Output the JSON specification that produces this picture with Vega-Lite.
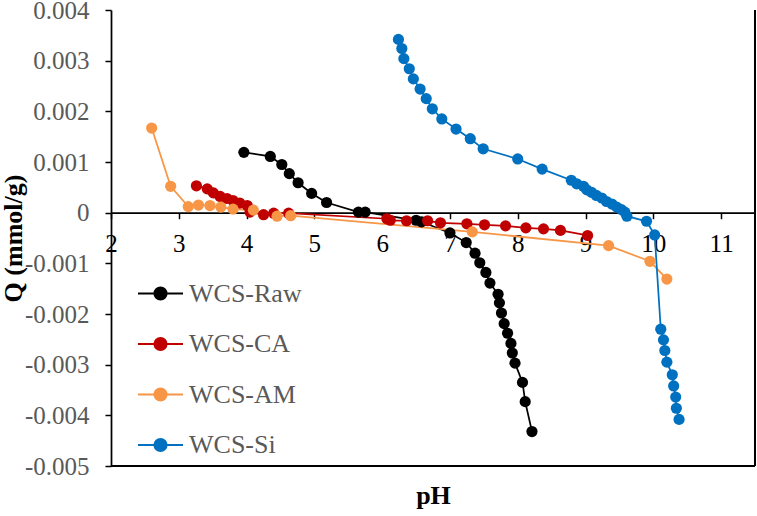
{
  "$schema": "https://vega.github.io/schema/vega-lite/v6.json",
  "width": 644,
  "height": 456,
  "autosize": {"type": "none"},
  "padding": {"left": 111, "top": 10, "right": 2, "bottom": 50},
  "background": "white",
  "config": {
    "view": {"stroke": null},
    "font": "Liberation Serif",
    "axis": {"labelFont": "Liberation Serif", "titleFont": "Liberation Serif"},
    "style": {"guide-label": {"font": "Liberation Serif"}, "guide-title": {"font": "Liberation Serif"}}
  },
  "data": {"values": [
    {"s": "WCS-Raw", "x": 3.96, "y": 0.00119},
    {"s": "WCS-Raw", "x": 4.35, "y": 0.00111},
    {"s": "WCS-Raw", "x": 4.52, "y": 0.00095},
    {"s": "WCS-Raw", "x": 4.63, "y": 0.00077},
    {"s": "WCS-Raw", "x": 4.76, "y": 0.00059},
    {"s": "WCS-Raw", "x": 4.96, "y": 0.00038},
    {"s": "WCS-Raw", "x": 5.18, "y": 0.0002},
    {"s": "WCS-Raw", "x": 5.65, "y": 0.00001},
    {"s": "WCS-Raw", "x": 5.75, "y": 0.00001},
    {"s": "WCS-Raw", "x": 6.5, "y": -0.00015},
    {"s": "WCS-Raw", "x": 6.58, "y": -0.00018},
    {"s": "WCS-Raw", "x": 7.0, "y": -0.0004},
    {"s": "WCS-Raw", "x": 7.24, "y": -0.00059},
    {"s": "WCS-Raw", "x": 7.37, "y": -0.0008},
    {"s": "WCS-Raw", "x": 7.44, "y": -0.00099},
    {"s": "WCS-Raw", "x": 7.53, "y": -0.00118},
    {"s": "WCS-Raw", "x": 7.59, "y": -0.00139},
    {"s": "WCS-Raw", "x": 7.71, "y": -0.00161},
    {"s": "WCS-Raw", "x": 7.73, "y": -0.00178},
    {"s": "WCS-Raw", "x": 7.76, "y": -0.00198},
    {"s": "WCS-Raw", "x": 7.8, "y": -0.00219},
    {"s": "WCS-Raw", "x": 7.85, "y": -0.00238},
    {"s": "WCS-Raw", "x": 7.9, "y": -0.00258},
    {"s": "WCS-Raw", "x": 7.92, "y": -0.00277},
    {"s": "WCS-Raw", "x": 7.96, "y": -0.00297},
    {"s": "WCS-Raw", "x": 8.07, "y": -0.00335},
    {"s": "WCS-Raw", "x": 8.11, "y": -0.00373},
    {"s": "WCS-Raw", "x": 8.21, "y": -0.00432},
    {"s": "WCS-CA", "x": 3.26, "y": 0.00053},
    {"s": "WCS-CA", "x": 3.42, "y": 0.00047},
    {"s": "WCS-CA", "x": 3.51, "y": 0.00039},
    {"s": "WCS-CA", "x": 3.61, "y": 0.00032},
    {"s": "WCS-CA", "x": 3.71, "y": 0.00028},
    {"s": "WCS-CA", "x": 3.8, "y": 0.00024},
    {"s": "WCS-CA", "x": 3.9, "y": 0.00019},
    {"s": "WCS-CA", "x": 4.01, "y": 0.00014},
    {"s": "WCS-CA", "x": 4.05, "y": 0.00001},
    {"s": "WCS-CA", "x": 4.25, "y": -0.00004},
    {"s": "WCS-CA", "x": 4.4, "y": -0.00001},
    {"s": "WCS-CA", "x": 4.62, "y": -0.00001},
    {"s": "WCS-CA", "x": 6.07, "y": -0.00012},
    {"s": "WCS-CA", "x": 6.12, "y": -0.00015},
    {"s": "WCS-CA", "x": 6.36, "y": -0.00016},
    {"s": "WCS-CA", "x": 6.67, "y": -0.00016},
    {"s": "WCS-CA", "x": 6.86, "y": -0.0002},
    {"s": "WCS-CA", "x": 7.25, "y": -0.00022},
    {"s": "WCS-CA", "x": 7.51, "y": -0.00024},
    {"s": "WCS-CA", "x": 7.82, "y": -0.00026},
    {"s": "WCS-CA", "x": 8.12, "y": -0.0003},
    {"s": "WCS-CA", "x": 8.38, "y": -0.00032},
    {"s": "WCS-CA", "x": 8.63, "y": -0.00035},
    {"s": "WCS-CA", "x": 9.03, "y": -0.00045},
    {"s": "WCS-AM", "x": 2.6, "y": 0.00167},
    {"s": "WCS-AM", "x": 2.88, "y": 0.00052},
    {"s": "WCS-AM", "x": 3.14, "y": 0.00012},
    {"s": "WCS-AM", "x": 3.29, "y": 0.00015},
    {"s": "WCS-AM", "x": 3.46, "y": 0.00014},
    {"s": "WCS-AM", "x": 3.62, "y": 0.00011},
    {"s": "WCS-AM", "x": 3.8, "y": 0.00007},
    {"s": "WCS-AM", "x": 4.1, "y": 0.00005},
    {"s": "WCS-AM", "x": 4.45, "y": -0.00007},
    {"s": "WCS-AM", "x": 4.65, "y": -0.00006},
    {"s": "WCS-AM", "x": 7.33, "y": -0.00038},
    {"s": "WCS-AM", "x": 9.34, "y": -0.00065},
    {"s": "WCS-AM", "x": 9.95, "y": -0.00096},
    {"s": "WCS-AM", "x": 10.2, "y": -0.00131},
    {"s": "WCS-Si", "x": 6.24, "y": 0.00342},
    {"s": "WCS-Si", "x": 6.29, "y": 0.00324},
    {"s": "WCS-Si", "x": 6.32, "y": 0.00304},
    {"s": "WCS-Si", "x": 6.4, "y": 0.00284},
    {"s": "WCS-Si", "x": 6.46, "y": 0.00264},
    {"s": "WCS-Si", "x": 6.56, "y": 0.00244},
    {"s": "WCS-Si", "x": 6.65, "y": 0.00225},
    {"s": "WCS-Si", "x": 6.74, "y": 0.00205},
    {"s": "WCS-Si", "x": 6.88, "y": 0.00185},
    {"s": "WCS-Si", "x": 7.09, "y": 0.00165},
    {"s": "WCS-Si", "x": 7.3, "y": 0.00146},
    {"s": "WCS-Si", "x": 7.49, "y": 0.00126},
    {"s": "WCS-Si", "x": 8.0, "y": 0.00106},
    {"s": "WCS-Si", "x": 8.36, "y": 0.00086},
    {"s": "WCS-Si", "x": 8.79, "y": 0.00064},
    {"s": "WCS-Si", "x": 8.87, "y": 0.00057},
    {"s": "WCS-Si", "x": 8.97, "y": 0.00052},
    {"s": "WCS-Si", "x": 9.02, "y": 0.00045},
    {"s": "WCS-Si", "x": 9.09, "y": 0.0004},
    {"s": "WCS-Si", "x": 9.16, "y": 0.00034},
    {"s": "WCS-Si", "x": 9.24, "y": 0.00029},
    {"s": "WCS-Si", "x": 9.31, "y": 0.00022},
    {"s": "WCS-Si", "x": 9.39, "y": 0.00017},
    {"s": "WCS-Si", "x": 9.46, "y": 0.00011},
    {"s": "WCS-Si", "x": 9.53, "y": 0.00006},
    {"s": "WCS-Si", "x": 9.58, "y": 0.00001},
    {"s": "WCS-Si", "x": 9.61, "y": -0.00007},
    {"s": "WCS-Si", "x": 9.9, "y": -0.00017},
    {"s": "WCS-Si", "x": 10.02, "y": -0.00044},
    {"s": "WCS-Si", "x": 10.11, "y": -0.0023},
    {"s": "WCS-Si", "x": 10.15, "y": -0.00251},
    {"s": "WCS-Si", "x": 10.17, "y": -0.00272},
    {"s": "WCS-Si", "x": 10.2, "y": -0.00295},
    {"s": "WCS-Si", "x": 10.28, "y": -0.0032},
    {"s": "WCS-Si", "x": 10.3, "y": -0.00342},
    {"s": "WCS-Si", "x": 10.33, "y": -0.00364},
    {"s": "WCS-Si", "x": 10.34, "y": -0.00386},
    {"s": "WCS-Si", "x": 10.38, "y": -0.00408}
  ]},
  "layer": [
    {
      "mark": {"type": "rule", "color": "#000000", "strokeWidth": 2},
      "encoding": {"y": {"datum": -0.005, "type": "quantitative"}}
    },
    {
      "mark": {"type": "rule", "color": "#000000", "strokeWidth": 2},
      "encoding": {"x": {"datum": 11.5, "type": "quantitative"}}
    },
    {
      "mark": {"type": "line", "strokeWidth": 1.75},
      "encoding": {
        "x": {"field": "x", "type": "quantitative"},
        "y": {"field": "y", "type": "quantitative"},
        "color": {"field": "s", "type": "nominal"},
        "detail": {"field": "s"}
      }
    },
    {
      "mark": {"type": "point", "filled": true, "size": 125, "opacity": 1},
      "encoding": {
        "x": {"field": "x", "type": "quantitative"},
        "y": {"field": "y", "type": "quantitative"},
        "color": {"field": "s", "type": "nominal"}
      }
    }
  ],
  "encoding": {
    "x": {
      "type": "quantitative",
      "scale": {"domain": [2, 11.5], "nice": false, "zero": false},
      "axis": {
        "title": "pH", "values": [2,3,4,5,6,7,8,9,10,11],
        "offset": -253.3, "titleY": 291, "titleBaseline": "alphabetic",
        "titleFont": "Liberation Serif", "titleFontSize": 26, "titleFontWeight": "bold", "titleColor": "#000000",
        "labelFont": "Liberation Serif", "labelFontSize": 25, "labelColor": "#000000", "labelFlush": false,
        "labelBaseline": "alphabetic", "labelPadding": 33, "tickSize": 6, "tickColor": "#000000", "tickWidth": 1.5,
        "domainColor": "#000000", "domainWidth": 1.75, "grid": false
      }
    },
    "y": {
      "type": "quantitative",
      "scale": {"domain": [-0.005, 0.004], "nice": false, "zero": false},
      "axis": {
        "title": "Q (mmol/g)",
        "values": [-0.005,-0.004,-0.003,-0.002,-0.001,0,0.001,0.002,0.003,0.004],
        "labelExpr": "datum.value == 0 ? '0' : (datum.value < 0 ? '-' : '') + format(abs(datum.value), '.3f')",
        "titleX": -98, "titleBaseline": "middle",
        "titleFont": "Liberation Serif", "titleFontSize": 26, "titleFontWeight": "bold", "titleColor": "#000000",
        "labelFont": "Liberation Serif", "labelFontSize": 25, "labelColor": "#595959", "labelPadding": 16,
        "tickSize": 6, "tickColor": "#000000", "tickWidth": 1.5,
        "domainColor": "#000000", "domainWidth": 1.75, "grid": false
      }
    },
    "color": {
      "scale": {"domain": ["WCS-Raw", "WCS-CA", "WCS-AM", "WCS-Si"], "range": ["#000000", "#C00000", "#F79646", "#0070C0"]},
      "legend": {
        "orient": "none", "legendX": 26, "legendY": 260, "title": null, "padding": 0,
        "symbolType": "M-1,0H1M-0.27,0A0.27,0.27 0 1,0 0.27,0A0.27,0.27 0 1,0 -0.27,0Z",
        "symbolSize": 2025, "symbolStrokeWidth": 2, "rowPadding": 13.5, "labelOffset": 5,
        "labelFontSize": 26, "labelColor": "#595959", "labelFont": "Liberation Serif"
      }
    }
  }
}
